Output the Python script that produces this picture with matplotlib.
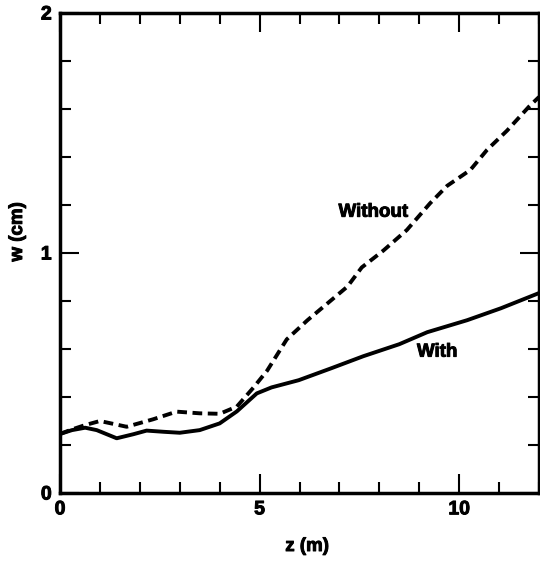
import matplotlib
matplotlib.use("Agg")
import matplotlib.pyplot as plt
import matplotlib.patheffects as pe
from matplotlib.ticker import MultipleLocator

# Data
z_with = [0.0, 0.3, 0.63, 0.92, 1.42, 1.84, 2.17, 2.6, 3.0, 3.5, 4.0, 4.43, 4.93,
          5.3, 5.98, 6.8, 7.6, 8.5, 9.2, 10.2, 11.05, 12.0]
w_with = [0.246, 0.262, 0.272, 0.262, 0.228, 0.245, 0.26, 0.255, 0.251, 0.262, 0.29,
          0.34, 0.415, 0.44, 0.47, 0.52, 0.57, 0.62, 0.67, 0.72, 0.77, 0.833]

z_without = [0.0, 0.3, 0.63, 1.0, 1.67, 2.33, 2.92, 3.5, 4.0, 4.43, 4.85, 5.19, 5.68,
             6.2, 6.7, 7.2, 7.56, 8.1, 8.69, 9.27, 9.7, 10.28, 10.7, 11.2, 11.75, 12.0]
w_without = [0.246, 0.265, 0.283, 0.30, 0.276, 0.307, 0.339, 0.332, 0.33, 0.36, 0.44,
             0.51, 0.64, 0.72, 0.79, 0.86, 0.94, 1.01, 1.096, 1.207, 1.28, 1.346, 1.43,
             1.51, 1.61, 1.65]

x_major = [0, 5, 10]
y_major = [0, 1, 2]
x_ticklabels = ["0", "5", "10"]
y_ticklabels = ["0", "1", "2"]

label_with = ("With", 9.45, 0.587)
label_without = ("Without", 7.85, 1.17)

plt.rcParams['font.family'] = ['Liberation Sans', 'DejaVu Sans']
plt.rcParams['font.weight'] = 'bold'
plt.rcParams['lines.scale_dashes'] = False

thick = [pe.withStroke(linewidth=0.7, foreground='black')]

fig = plt.figure(figsize=(5.40, 5.61), dpi=100)
ax = fig.add_axes([60/540, 68/561, 479/540, 480/561])

ax.plot(z_with, w_with, color='black', lw=2.8, solid_capstyle='round', solid_joinstyle='round')
ax.plot(z_without, w_without, color='black', lw=2.8, linestyle=(0, (7, 4)),
        dash_capstyle='butt', dash_joinstyle='round')

for txt, zx, wy in (label_with, label_without):
    ax.text(zx, wy, txt, fontsize=13.5, fontweight='bold', ha='center', va='center',
            path_effects=thick)

ax.set_xlim(0, 12)
ax.set_ylim(0, 2)
ax.set_xticks(x_major)
ax.set_xticklabels(x_ticklabels)
ax.set_yticks(y_major)
ax.set_yticklabels(y_ticklabels)
ax.xaxis.set_minor_locator(MultipleLocator(1))
ax.yaxis.set_minor_locator(MultipleLocator(0.2))

ax.tick_params(which='both', direction='in', top=True, right=True, width=1.5,
               labelsize=14, colors='black')
ax.tick_params(which='major', length=14)
ax.tick_params(which='minor', length=8)
ax.tick_params(axis='x', which='major', pad=6)
ax.tick_params(axis='y', which='major', pad=6)
for lab in ax.get_xticklabels() + ax.get_yticklabels():
    lab.set_fontweight('bold')
    lab.set_path_effects(thick)

for sp in ax.spines.values():
    sp.set_linewidth(2.5)

ax.set_xlabel("z (m)", fontsize=13.5, fontweight='bold', path_effects=thick)
ax.set_ylabel("w (cm)", fontsize=13.5, fontweight='bold', path_effects=thick)
ax.xaxis.set_label_coords((307-60)/479, -(538-493)/480)
ax.yaxis.set_label_coords(-(60-26)/479, (493-232)/480)

fig.savefig("out.png", dpi=100)
